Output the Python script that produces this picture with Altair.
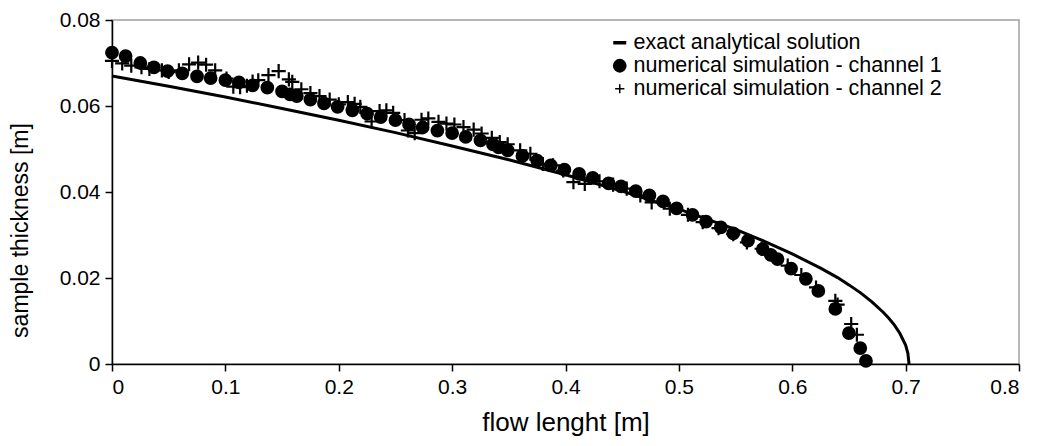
import altair as alt
import pandas as pd

# ---- data ----
exact_x = [0.0, 0.05, 0.1, 0.15, 0.2, 0.25, 0.3, 0.35, 0.4, 0.45, 0.5, 0.55, 0.575,
           0.6, 0.625, 0.64, 0.65, 0.66, 0.67, 0.68, 0.685, 0.69, 0.695, 0.7, 0.702, 0.703]
exact_y = [0.0670, 0.0646, 0.0621, 0.0594, 0.0567, 0.0538, 0.0507, 0.0475, 0.0440, 0.0402,
           0.0360, 0.0313, 0.0286, 0.0256, 0.0223, 0.0201, 0.0184, 0.0166, 0.0145, 0.0121,
           0.0107, 0.0091, 0.0071, 0.0044, 0.0025, 0.0]

ch1_x = [0.000, 0.012, 0.025, 0.037, 0.049, 0.062, 0.075, 0.087, 0.100, 0.112, 0.124, 0.137,
         0.150, 0.157, 0.163, 0.175, 0.187, 0.199, 0.212, 0.225, 0.237, 0.250, 0.262, 0.274,
         0.287, 0.300, 0.312, 0.325, 0.336, 0.341, 0.349, 0.362, 0.375, 0.387, 0.399, 0.412,
         0.424, 0.438, 0.449, 0.462, 0.474, 0.486, 0.498, 0.512, 0.524, 0.537, 0.548, 0.561,
         0.574, 0.581, 0.587, 0.599, 0.612, 0.623, 0.638, 0.650, 0.660, 0.665]
ch1_y = [0.0724, 0.0716, 0.0700, 0.0690, 0.0681, 0.0676, 0.0669, 0.0665, 0.0660, 0.0655,
         0.0648, 0.0643, 0.0634, 0.0627, 0.0623, 0.0615, 0.0606, 0.0598, 0.0590, 0.0582,
         0.0574, 0.0567, 0.0557, 0.0550, 0.0543, 0.0537, 0.0528, 0.0520, 0.0511, 0.0504,
         0.0497, 0.0484, 0.0473, 0.0462, 0.0452, 0.0442, 0.0433, 0.0420, 0.0413, 0.0402,
         0.0392, 0.0378, 0.0362, 0.0347, 0.0331, 0.0318, 0.0304, 0.0287, 0.0267, 0.0254,
         0.0244, 0.0222, 0.0198, 0.0170, 0.0128, 0.0072, 0.0037, 0.0007]

ch2_x = [0.000, 0.009, 0.017, 0.026, 0.033, 0.044, 0.050, 0.059, 0.068, 0.076, 0.083, 0.091,
         0.101, 0.107, 0.113, 0.119, 0.124, 0.129, 0.138, 0.147, 0.156, 0.159, 0.167, 0.175,
         0.183, 0.192, 0.200, 0.208, 0.214, 0.219, 0.229, 0.236, 0.242, 0.248, 0.258, 0.261,
         0.267, 0.273, 0.279, 0.288, 0.295, 0.302, 0.310, 0.319, 0.326, 0.335, 0.342, 0.349,
         0.360, 0.369, 0.380, 0.389, 0.398, 0.407, 0.417, 0.430, 0.442, 0.454, 0.466, 0.476,
         0.492, 0.508, 0.521, 0.535, 0.548, 0.560, 0.573, 0.585, 0.596, 0.608, 0.621, 0.638,
         0.640, 0.652, 0.657]
ch2_y = [0.0705, 0.0699, 0.0694, 0.0690, 0.0686, 0.0683, 0.0679, 0.0683, 0.0697, 0.0701,
         0.0696, 0.0683, 0.0664, 0.0645, 0.0644, 0.0647, 0.0657, 0.0660, 0.0672, 0.0681,
         0.0662, 0.0656, 0.0639, 0.0630, 0.0623, 0.0615, 0.0604, 0.0609, 0.0605, 0.0598,
         0.0564, 0.0588, 0.0590, 0.0584, 0.0567, 0.0543, 0.0537, 0.0568, 0.0571, 0.0563,
         0.0559, 0.0557, 0.0551, 0.0545, 0.0536, 0.0526, 0.0516, 0.0511, 0.0497, 0.0489,
         0.0465, 0.0462, 0.0450, 0.0423, 0.0419, 0.0425, 0.0417, 0.0408, 0.0392, 0.0376,
         0.0361, 0.0347, 0.0330, 0.0316, 0.0302, 0.0283, 0.0268, 0.0247, 0.0229, 0.0207,
         0.0178, 0.0147, 0.0138, 0.0093, 0.0068]

names = ["exact analytical solution",
         "numerical simulation - channel 1",
         "numerical simulation - channel 2"]

exact_df = pd.DataFrame({"x": exact_x, "y": exact_y, "series": names[0]})
ch1_df = pd.DataFrame({"x": ch1_x, "y": ch1_y, "series": names[1]})
ch2_df = pd.DataFrame({"x": ch2_x, "y": ch2_y, "series": names[2]})

PLUS = "M-1,0L1,0M0,-1L0,1"
FONT = "Liberation Sans"

x_enc = alt.X("x:Q", title="flow lenght [m]",
              scale=alt.Scale(domain=[0, 0.8], nice=False, zero=False),
              axis=alt.Axis(values=[0, 0.1, 0.2, 0.3, 0.4, 0.5, 0.6, 0.7, 0.8], format=".1~f",
                            grid=False, titlePadding=12, titleFontSize=26))
y_enc = alt.Y("y:Q", title="sample thickness [m]",
              scale=alt.Scale(domain=[0, 0.08], nice=False),
              axis=alt.Axis(values=[0, 0.02, 0.04, 0.06, 0.08], format=".2~f",
                            grid=False, titlePadding=27, titleFontSize=23, titleY=210))

leg = alt.Legend(title=None, orient="none", legendX=497, legendY=12,
                 labelFont=FONT, labelFontSize=21.5, labelColor="black", labelLimit=0,
                 labelOffset=3, rowPadding=0, padding=0, symbolOpacity=1)

shape_enc = alt.Shape("series:N",
                      scale=alt.Scale(domain=names, range=["stroke", "circle", PLUS]),
                      legend=leg)
color_enc = alt.Color("series:N",
                      scale=alt.Scale(domain=names, range=["black", "black", "black"]),
                      legend=leg)
fill_enc = alt.Fill("series:N",
                    scale=alt.Scale(domain=names, range=["transparent", "black", "transparent"]),
                    legend=leg)
size_enc = alt.Size("series:N",
                    scale=alt.Scale(domain=names, range=[169, 85, 190]),
                    legend=leg)
sw_enc = alt.StrokeWidth("series:N",
                         scale=alt.Scale(domain=names, range=[3.5, 1.5, 2.2]),
                         legend=leg)

line = alt.Chart(exact_df).mark_line(color="black", strokeWidth=3).encode(
    x=x_enc, y=y_enc, order="x:Q"
)

# legend carrier + channel-1 circles
circles = alt.Chart(ch1_df).mark_point(filled=False, opacity=1).encode(
    x="x:Q", y="y:Q", shape=shape_enc, color=color_enc, fill=fill_enc,
    size=size_enc, strokeWidth=sw_enc
)

pluses = alt.Chart(ch2_df).mark_point(
    shape=PLUS, filled=False, color="black", stroke="black", fill="transparent",
    size=200, strokeWidth=2.2, opacity=1
).encode(x="x:Q", y="y:Q")

chart = alt.layer(line, circles, pluses).properties(
    width=907, height=344,
    autosize=alt.AutoSizeParams(type="none"),
    padding={"left": 112, "top": 20, "right": 18, "bottom": 82},
    background="white",
).configure_view(
    stroke="#a0a0a0", strokeWidth=1.5
).configure_axis(
    domainColor="black", domainWidth=1.5, tickColor="black", tickWidth=1.5, tickSize=7,
    labelFont=FONT, labelFontSize=21, labelColor="black", labelPadding=5,
    titleFont=FONT, titleFontWeight="normal", titleColor="black",
)

chart.save("out.html", embed_options={"renderer": "svg", "actions": False})
